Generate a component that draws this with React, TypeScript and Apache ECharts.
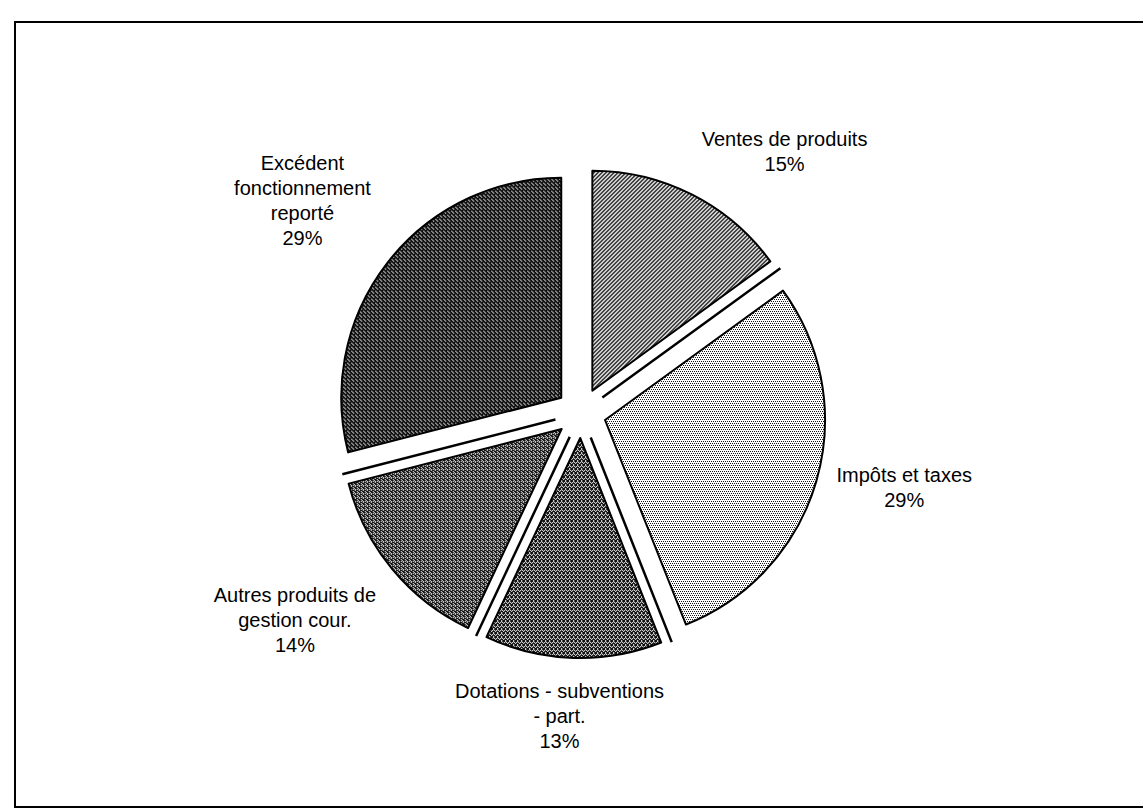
import React, { useEffect, useRef } from "react";
import * as echarts from "echarts";

// ---- data ----
const categories = [
  "Ventes de produits",
  "Impôts et taxes",
  "Dotations - subventions\n- part.",
  "Autres produits de\ngestion cour.",
  "Excédent\nfonctionnement\nreporté",
];
const values = [15, 29, 13, 14, 29];

// ---- style ----
const CX = 581;
const CY = 413;
const R = 220;
const EXPLODE = 25;
const LABEL_R = 1.209; // anchor radius for labels, in units of R
const FONT = '20px "Liberation Sans", Arial, sans-serif';
const LINE_H = 25;

// halftone tiles imitating the scanned print
const TILES = [
  ["XX..", "X..X", "..XX", ".XX."],
  ["X.X.", "....", ".X.X", "...."],
  ["XX.X", "X.X.", ".XXX", "XX.X"],
  ["X.XX", ".X.X", "XX.X", ".XXX"],
  ["X.XX", "XXXX", "XXX.", ".XXX"],
];

function makePattern(tile: string[]) {
  const h = tile.length;
  const w = tile[0].length;
  const c = document.createElement("canvas");
  c.width = w;
  c.height = h;
  const ctx = c.getContext("2d")!;
  ctx.fillStyle = "#ffffff";
  ctx.fillRect(0, 0, w, h);
  ctx.fillStyle = "#111111";
  for (let y = 0; y < h; y++) {
    for (let x = 0; x < w; x++) {
      if (tile[y][x] === "X") ctx.fillRect(x, y, 1, 1);
    }
  }
  return { image: c, repeat: "repeat", imageWidth: w, imageHeight: h };
}

function measure(text: string) {
  const c = document.createElement("canvas");
  const ctx = c.getContext("2d")!;
  ctx.font = FONT;
  const lines = text.split("\n");
  let w = 0;
  lines.forEach((l) => {
    w = Math.max(w, ctx.measureText(l).width);
  });
  return { w, h: lines.length * LINE_H };
}

const clamp = (v: number, a: number, b: number) => Math.max(a, Math.min(b, v));

export default function App() {
  const ref = useRef<HTMLDivElement>(null);

  useEffect(() => {
    if (!ref.current) return;
    const chart = echarts.init(ref.current, undefined, { renderer: "svg" });

    const total = values.reduce((a, b) => a + b, 0);
    const starts: number[] = [];
    let acc = 0;
    values.forEach((v) => {
      starts.push(acc);
      acc += v;
    });
    // boundaries between slices (in percent of the full turn)
    const boundaries = values
      .slice(0, values.length - 1)
      .map((v, i) => ((starts[i] + v) / total) * 100);
    const mids = values.map((v, i) => ((starts[i] + v / 2) / total) * 100);
    const labels = values.map(
      (v, i) => `${categories[i]}\n${Math.round((v / total) * 100)}%`
    );
    const patterns = TILES.map(makePattern);

    const option: any = {
      animation: false,
      backgroundColor: "#ffffff",
      graphic: [
        {
          type: "rect",
          silent: true,
          z: -10,
          shape: { x: 15, y: 22, width: 1160, height: 785 },
          style: { fill: "none", stroke: "#000", lineWidth: 2 },
        },
      ],
      polar: { center: [CX, CY], radius: R },
      angleAxis: {
        type: "value",
        min: 0,
        max: 100,
        startAngle: 90,
        clockwise: true,
        show: false,
      },
      radiusAxis: { type: "value", min: 0, max: 1, show: false },
      series: [
        {
          type: "pie",
          z: 3,
          center: [CX, CY],
          radius: [0, R],
          startAngle: 90,
          clockwise: true,
          selectedMode: "multiple",
          selectedOffset: EXPLODE,
          label: { show: false },
          labelLine: { show: false },
          emphasis: { disabled: true },
          data: values.map((v, i) => ({
            name: categories[i],
            value: v,
            selected: true,
            itemStyle: {
              color: patterns[i],
              borderColor: "#000",
              borderWidth: 2,
            },
            select: {
              itemStyle: {
                color: patterns[i],
                borderColor: "#000",
                borderWidth: 2,
              },
            },
          })),
        },
        {
          type: "custom",
          coordinateSystem: "polar",
          z: 2,
          silent: true,
          data: boundaries.map((b) => [1, b]),
          renderItem: (params: any, api: any) => {
            const a = api.value(1);
            const p1 = api.coord([0.12, a]);
            const p2 = api.coord([1.12, a]);
            return {
              type: "line",
              shape: { x1: p1[0], y1: p1[1], x2: p2[0], y2: p2[1] },
              style: { stroke: "#000", lineWidth: 2.5 },
            };
          },
        },
        {
          type: "custom",
          coordinateSystem: "polar",
          z: 4,
          silent: true,
          data: mids.map((m, i) => [LABEL_R, m, i]),
          renderItem: (params: any, api: any) => {
            const a = api.value(1);
            const i = api.value(2);
            const p = api.coord([LABEL_R, a]);
            const th = (a / 100) * Math.PI * 2;
            const ux = Math.sin(th);
            const uy = -Math.cos(th);
            const kx = clamp(4 * ux, -1, 1);
            const ky = Math.sign(uy) * clamp(3 * (Math.abs(uy) - 0.28), 0, 1);
            const text = labels[i];
            const m = measure(text);
            return {
              type: "text",
              x: p[0] + (kx * m.w) / 2,
              y: p[1] + (ky * m.h) / 2,
              style: {
                text,
                align: "center",
                verticalAlign: "middle",
                font: FONT,
                lineHeight: LINE_H,
                fill: "#000",
              },
            };
          },
        },
      ],
    };

    chart.setOption(option);
    return () => {
      chart.dispose();
    };
  }, []);

  return (
    <div
      ref={ref}
      style={{ position: "absolute", left: 0, top: 0, width: 1143, height: 810 }}
    />
  );
}
